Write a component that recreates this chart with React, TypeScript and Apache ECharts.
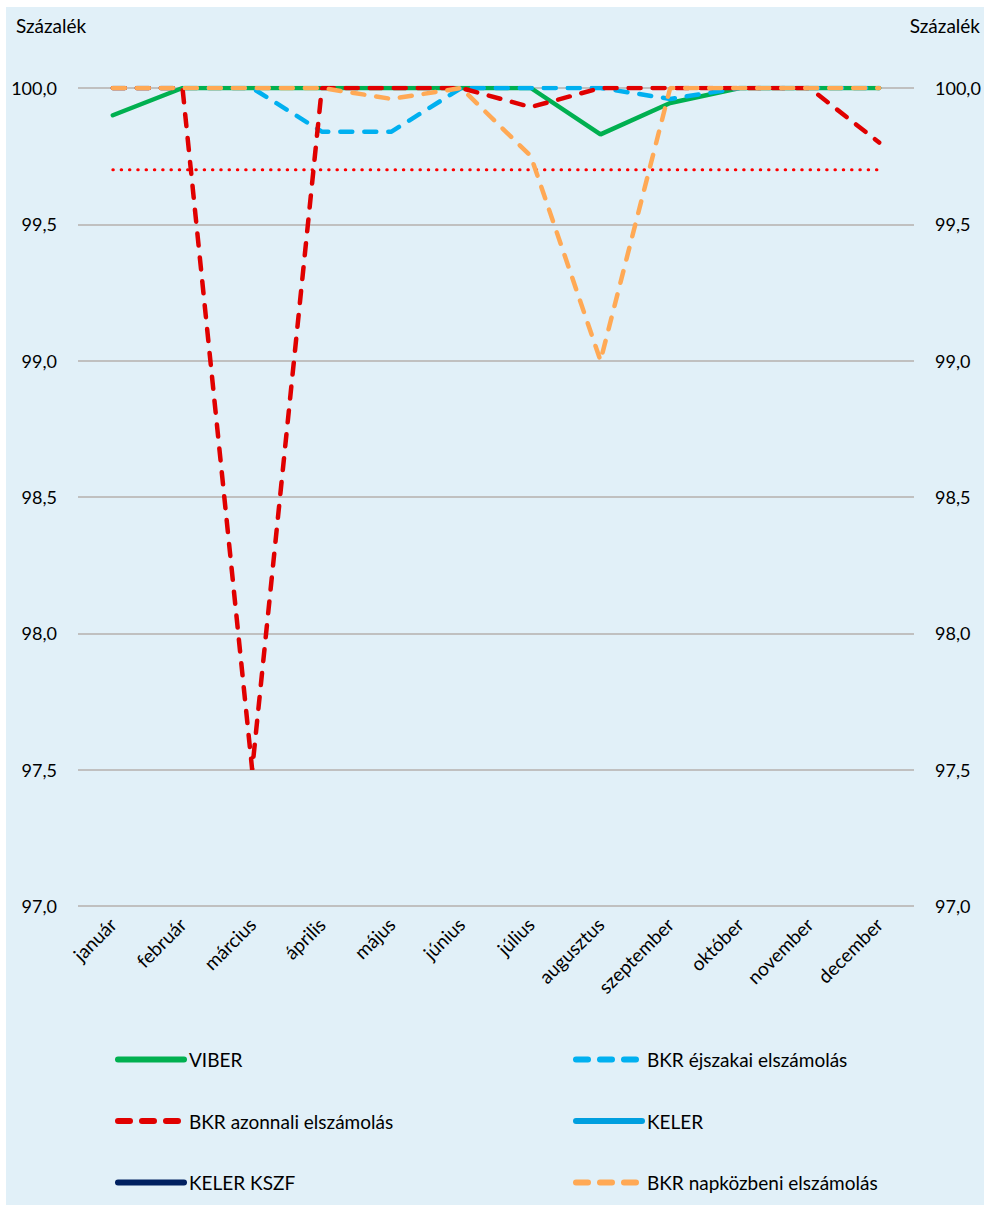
import React, { useEffect, useRef } from "react";
import * as echarts from "echarts";

const months = ["január", "február", "március", "április", "május", "június", "július", "augusztus", "szeptember", "október", "november", "december"];
const viber = [99.9, 100, 100, 100, 100, 100, 100, 99.83, 99.945, 100, 100, 100];
const bkrEjszakai = [100, 100, 100, 99.84, 99.84, 100, 100, 100, 99.96, 100, 100, 100];
const bkrAzonnali = [100, 100, 97.5, 100, 100, 100, 99.93, 100, 100, 100, 100, 99.8];
const keler: (number | null)[] = [null, null, null, null, null, null, null, null, null, null, null, null];
const kelerKszf: (number | null)[] = [null, null, null, null, null, null, null, null, null, null, null, null];
const bkrNapkozbeni = [100, 100, 100, 100, 99.96, 100, 99.75, 99.0, 100, 100, 100, 100];
const targetValue = 99.7;
const yTicks = { min: 97, max: 100, interval: 0.5 };

const FONT = "Lato, 'Noto Sans', sans-serif";

export default function App() {
  const ref = useRef<HTMLDivElement>(null);
  useEffect(() => {
    if (!ref.current) return;
    const chart = echarts.init(ref.current, null, { renderer: "svg" });
    const fmt = (v: number) => v.toFixed(1).replace(".", ",");
    const dashed = [12, 12];
    const lw = 4.5;
    const target = months.map(() => targetValue);
    const legendBase = {
      orient: "vertical",
      top: 1038,
      itemWidth: 66,
      itemHeight: 6,
      itemGap: 42.5,
      itemTextGap: 15,
      itemStyle: { color: "rgba(0,0,0,0)", borderWidth: 0 },
      lineStyle: { width: 6, cap: "round" },
      textStyle: { fontSize: 19, color: "#000", fontFamily: FONT },
    };
    chart.setOption({
      animation: false,
      backgroundColor: "#e1f0f8",
      textStyle: { fontFamily: FONT },
      grid: { left: 72, right: 70, top: 81, bottom: 299, containLabel: false },
      graphic: [
        { type: "text", left: 10, top: 9, style: { text: "Százalék", font: `19px ${FONT}`, fill: "#000" } },
        { type: "text", right: 4, top: 9, style: { text: "Százalék", font: `19px ${FONT}`, fill: "#000" } },
      ],
      xAxis: {
        type: "category",
        data: months,
        boundaryGap: true,
        axisLine: { show: false },
        axisTick: { show: false },
        axisLabel: { rotate: 45, margin: 15, fontSize: 19, color: "#000", fontFamily: FONT, interval: 0 },
      },
      yAxis: [
        {
          type: "value",
          min: yTicks.min,
          max: yTicks.max,
          interval: yTicks.interval,
          position: "left",
          axisLine: { show: false },
          axisTick: { show: false },
          axisLabel: { formatter: fmt, fontSize: 18, color: "#000", margin: 21, fontFamily: FONT },
          splitLine: { show: true, lineStyle: { color: "#c0c0c0", width: 2 } },
        },
        {
          type: "value",
          min: yTicks.min,
          max: yTicks.max,
          interval: yTicks.interval,
          position: "right",
          axisLine: { show: false },
          axisTick: { show: false },
          axisLabel: { formatter: fmt, fontSize: 18, color: "#000", margin: 21, fontFamily: FONT },
          splitLine: { show: false },
        },
      ],
      legend: [
        { ...legendBase, left: 104, data: ["VIBER", "BKR azonnali elszámolás", "KELER KSZF"] },
        { ...legendBase, left: 562, data: ["BKR éjszakai elszámolás", "KELER", "BKR napközbeni elszámolás"] },
      ],
      series: [
        {
          name: "target",
          type: "line",
          data: target,
          symbol: "none",
          silent: true,
          lineStyle: { color: "#ff0000", width: 3, type: [0.5, 7.8], cap: "round" },
          z: 1,
        },
        {
          name: "KELER KSZF",
          type: "line",
          data: kelerKszf,
          symbol: "none",
          color: "#002060",
          lineStyle: { color: "#002060", width: lw, cap: "round" },
          z: 2,
        },
        {
          name: "KELER",
          type: "line",
          data: keler,
          symbol: "none",
          color: "#009fdf",
          lineStyle: { color: "#009fdf", width: lw, cap: "round" },
          z: 2,
        },
        {
          name: "VIBER",
          type: "line",
          data: viber,
          symbol: "none",
          color: "#00b050",
          lineStyle: { color: "#00b050", width: lw, cap: "round" },
          z: 3,
        },
        {
          name: "BKR éjszakai elszámolás",
          type: "line",
          data: bkrEjszakai,
          symbol: "none",
          color: "#00b0f0",
          lineStyle: { color: "#00b0f0", width: lw, type: dashed, cap: "round" },
          z: 4,
        },
        {
          name: "BKR azonnali elszámolás",
          type: "line",
          data: bkrAzonnali,
          symbol: "none",
          color: "#e00000",
          lineStyle: { color: "#e00000", width: lw, type: dashed, cap: "round" },
          z: 5,
        },
        {
          name: "BKR napközbeni elszámolás",
          type: "line",
          data: bkrNapkozbeni,
          symbol: "none",
          color: "#ffa955",
          lineStyle: { color: "#ffa955", width: lw, type: dashed, cap: "round" },
          z: 6,
        },
      ],
    });
    return () => chart.dispose();
  }, []);
  return <div ref={ref} style={{ position: "absolute", left: 6, top: 7, width: 978, height: 1198 }} />;
}
